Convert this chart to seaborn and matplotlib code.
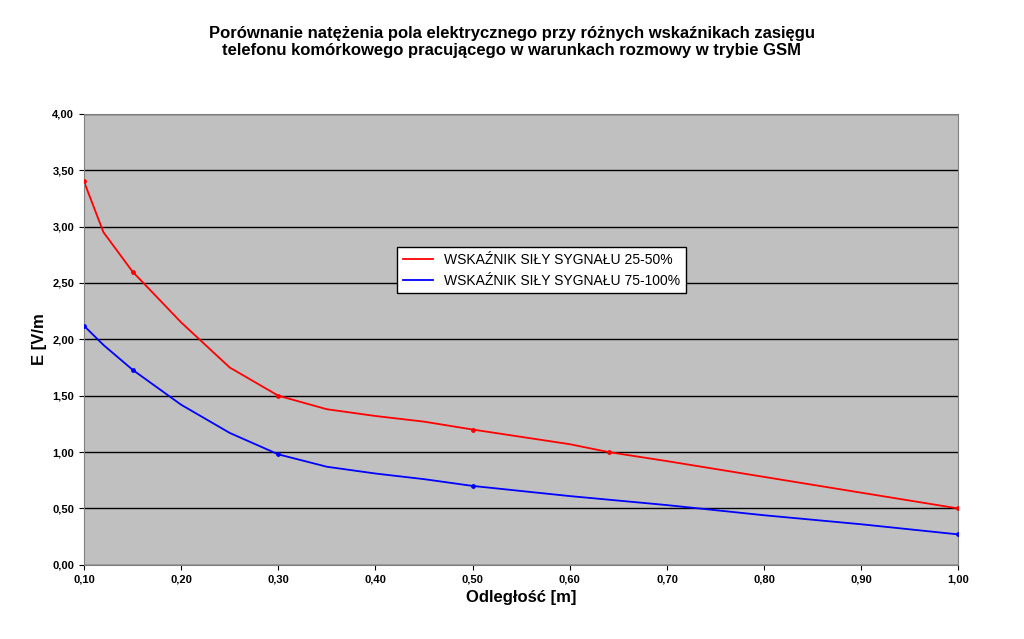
import pandas as pd
import seaborn as sns
import matplotlib.pyplot as plt

# values
x_red = [0.10, 0.12, 0.15, 0.20, 0.25, 0.30, 0.35, 0.40, 0.45, 0.50, 0.60, 0.64, 0.70, 0.80, 0.90, 1.00]
y_red = [3.40, 2.95, 2.60, 2.15, 1.75, 1.50, 1.38, 1.32, 1.27, 1.20, 1.07, 1.00, 0.92, 0.78, 0.64, 0.50]
x_blue = [0.10, 0.12, 0.15, 0.20, 0.25, 0.30, 0.35, 0.40, 0.45, 0.50, 0.60, 0.70, 0.80, 0.90, 1.00]
y_blue = [2.12, 1.95, 1.73, 1.42, 1.17, 0.98, 0.87, 0.81, 0.76, 0.70, 0.61, 0.53, 0.44, 0.36, 0.27]
mark_red = [0.10, 0.15, 0.30, 0.50, 0.64, 1.00]
mark_blue = [0.10, 0.15, 0.30, 0.50, 1.00]
x_ticks = [0.1, 0.2, 0.3, 0.4, 0.5, 0.6, 0.7, 0.8, 0.9, 1.0]
y_ticks = [0, 0.5, 1, 1.5, 2, 2.5, 3, 3.5, 4]
label_red = 'WSKAŹNIK SIŁY SYGNAŁU 25-50%'
label_blue = 'WSKAŹNIK SIŁY SYGNAŁU 75-100%'

plt.rcParams['font.family'] = 'Liberation Sans'
fig = plt.figure(figsize=(10.24, 6.39), dpi=100)
ax = fig.add_axes([0.082, 0.116, 0.854, 0.706])
ax.set_facecolor('#c0c0c0')

sns.lineplot(x=x_red, y=y_red, color='red', lw=1.3, ax=ax, label=label_red, marker='o', markersize=0)
sns.lineplot(x=x_blue, y=y_blue, color='blue', lw=1.3, ax=ax, label=label_blue, marker='o', markersize=0)
dr = pd.DataFrame({'x': x_red, 'y': y_red})
db = pd.DataFrame({'x': x_blue, 'y': y_blue})
ax.scatter(mark_red, dr.set_index('x').loc[mark_red, 'y'], color='red', s=6, zorder=3)
ax.scatter(mark_blue, db.set_index('x').loc[mark_blue, 'y'], color='blue', s=6, zorder=3)

ax.set_xlim(0.1, 1.0)
ax.set_ylim(0, 4)
ax.set_xticks(x_ticks)
ax.set_yticks(y_ticks)
ax.set_xticklabels([f'{v:.2f}'.replace('.', ',') for v in x_ticks], fontsize=8, fontweight='bold')
ax.set_yticklabels([f'{v:.2f}'.replace('.', ',') for v in y_ticks], fontsize=8, fontweight='bold')
ax.yaxis.grid(True, color='black', lw=1)
ax.set_axisbelow(True)
for s in ax.spines.values():
    s.set_color('#808080')
ax.set_xlabel('Odległość [m]', fontsize=12, fontweight='bold')
ax.set_ylabel('E [V/m', fontsize=12, fontweight='bold')
fig.suptitle('Porównanie natężenia pola elektrycznego przy różnych wskaźnikach zasięgu\n'
             'telefonu komórkowego pracującego w warunkach rozmowy w trybie GSM',
             y=0.96, fontsize=12, fontweight='bold')
leg = ax.legend(loc='upper left', bbox_to_anchor=(0.35, 0.72), fancybox=False,
                framealpha=1, edgecolor='black', fontsize=10, handlelength=2.2)
leg.get_frame().set_linewidth(1)
fig.savefig('out.png')
